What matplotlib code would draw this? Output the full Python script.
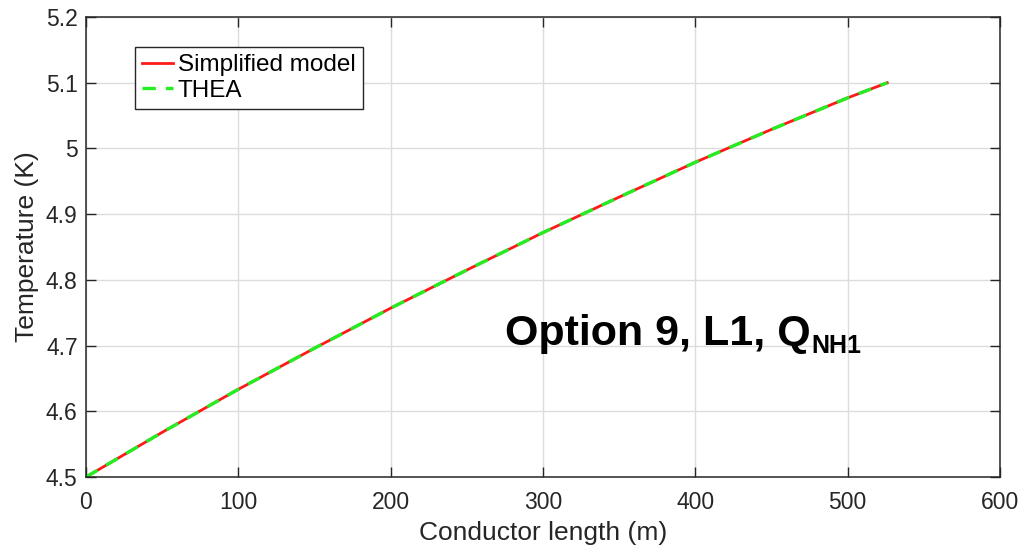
import numpy as np
import matplotlib.pyplot as plt

# values
length_m = [0, 50, 100, 150, 200, 250, 300, 350, 400, 450, 500, 526]
temp_simplified = [4.5, 4.568, 4.6335, 4.696, 4.757, 4.815, 4.872, 4.926, 4.979, 5.029, 5.077, 5.1]
temp_thea = [4.5, 4.568, 4.6335, 4.696, 4.757, 4.815, 4.872, 4.926, 4.979, 5.029, 5.077, 5.1]

x_ticks = [0, 100, 200, 300, 400, 500, 600]
y_ticks = [4.5, 4.6, 4.7, 4.8, 4.9, 5.0, 5.1, 5.2]
y_tick_labels = ['4.5', '4.6', '4.7', '4.8', '4.9', '5', '5.1', '5.2']

plt.rcParams['font.family'] = ['Liberation Sans', 'DejaVu Sans']
dark = '#262626'

fig = plt.figure(figsize=(10.25, 5.5), dpi=100)
ax = fig.add_axes([0.0839, 0.1327, 0.8917, 0.8363])

ax.plot(length_m, temp_simplified, color='#ff1a1a', lw=2.0, label='Simplified model')
ax.plot(length_m, temp_thea, color='#22ee22', lw=2.4, dashes=(4, 3), label='THEA')

ax.set_xlim(0, 600)
ax.set_ylim(4.5, 5.2)
ax.set_xticks(x_ticks)
ax.set_yticks(y_ticks)
ax.set_yticklabels(y_tick_labels)
ax.grid(True, color='#dcdcdc', lw=1)
ax.set_axisbelow(True)

ax.tick_params(direction='in', length=7, width=1, colors=dark, labelsize=16.5,
               top=True, right=True, labelcolor=dark)
ax.tick_params(axis='x', pad=10)
ax.tick_params(axis='y', pad=6)
for s in ax.spines.values():
    s.set_color(dark)
    s.set_linewidth(1.1)

ax.set_xlabel('Conductor length (m)', fontsize=19, color=dark, labelpad=5)
ax.set_ylabel('Temperature (K)', fontsize=19, color=dark, labelpad=5)

leg = ax.legend(loc='upper left', bbox_to_anchor=(0.0536, 0.935), fontsize=17.5,
                handlelength=1.25, handletextpad=0.2, borderpad=0.3, labelspacing=0.15,
                borderaxespad=0, fancybox=False, framealpha=1)
leg.get_frame().set_edgecolor(dark)
leg.get_frame().set_linewidth(1.0)

t = ax.text(275, 4.701, 'Option 9, L1, Q', fontsize=31, fontweight='bold',
            color='black', va='baseline', ha='left')
ax.annotate('NH1', xy=(1, 0), xycoords=t, fontsize=18, fontweight='bold',
            color='black', va='baseline', ha='left', xytext=(0.5, 1), textcoords='offset points')

plt.savefig('out.png', dpi=100)
plt.close()
